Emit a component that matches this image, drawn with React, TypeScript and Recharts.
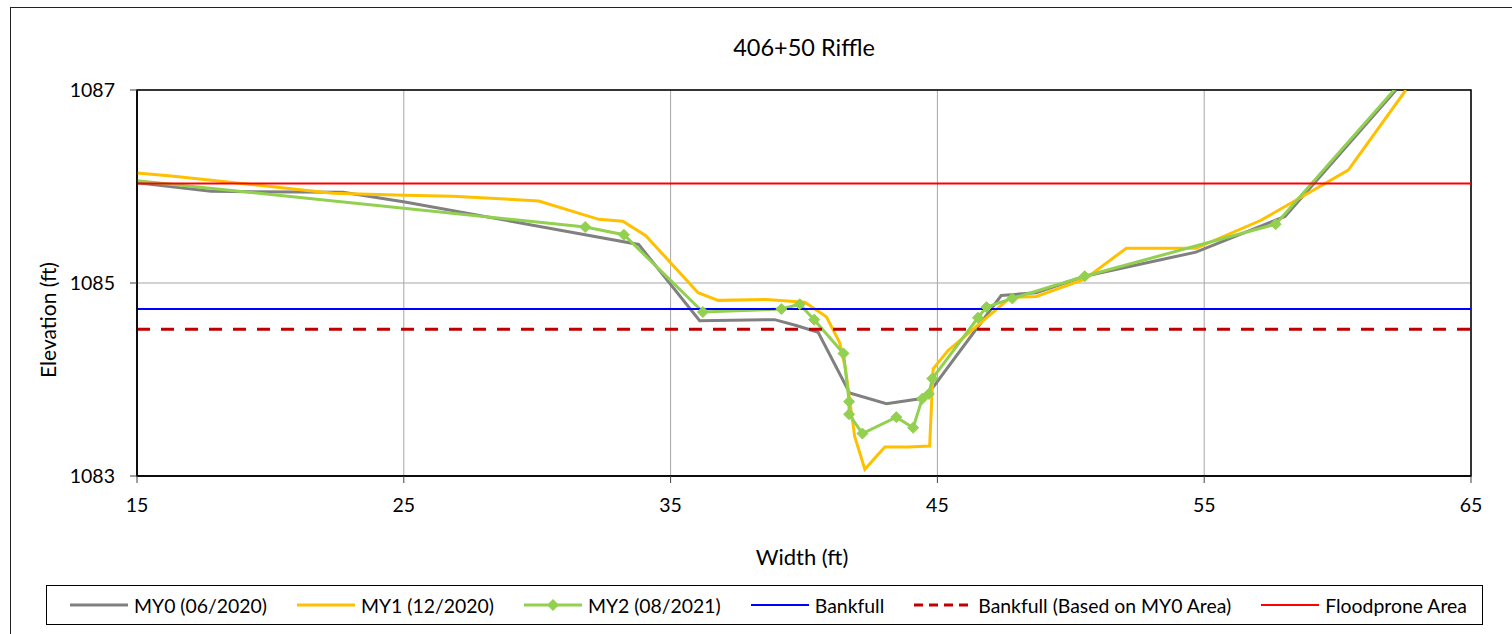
import { CartesianGrid, Line, LineChart, ReferenceArea, ReferenceLine, XAxis, YAxis } from "recharts";

const FONT = "Lato, 'Open Sans', sans-serif";

// surveyed cross-section, width (ft) / elevation (ft)
const my0Width = [15, 17.77, 22.72, 25.04, 33.8, 36.09, 38.9, 39.71, 40.53, 41.71, 43.09, 44.34, 44.84, 47.39, 48.7, 50.52, 54.69, 58.03, 62.19];
const my0Elev = [1086.04, 1085.95, 1085.94, 1085.84, 1085.4, 1084.61, 1084.62, 1084.56, 1084.49, 1083.86, 1083.75, 1083.8, 1083.92, 1084.87, 1084.9, 1085.07, 1085.32, 1085.69, 1087];

const my1Width = [15, 16.29, 22.34, 25.04, 26.84, 30.06, 32.31, 33.21, 34.07, 36.03, 36.78, 38.59, 40.03, 40.84, 41.34, 41.55, 41.9, 42.28, 43.03, 43.9, 44.71, 44.84, 45.4, 47.74, 48.71, 50.52, 52.08, 54.69, 57.13, 60.4, 62.56];
const my1Elev = [1086.14, 1086.11, 1085.93, 1085.91, 1085.9, 1085.85, 1085.66, 1085.64, 1085.49, 1084.9, 1084.82, 1084.83, 1084.8, 1084.65, 1084.38, 1084.12, 1083.41, 1083.07, 1083.3, 1083.3, 1083.31, 1084.11, 1084.3, 1084.85, 1084.86, 1085.04, 1085.36, 1085.36, 1085.65, 1086.17, 1087];

const my2Width = [15, 31.8, 33.25, 36.21, 39.15, 39.84, 40.38, 41.48, 41.69, 41.69, 42.19, 43.46, 44.09, 44.43, 44.68, 44.81, 46.52, 46.84, 47.81, 50.52, 57.68, 62.12];
const my2Elev = [1086.06, 1085.58, 1085.5, 1084.7, 1084.73, 1084.78, 1084.62, 1084.27, 1083.77, 1083.64, 1083.44, 1083.61, 1083.5, 1083.8, 1083.85, 1084.01, 1084.64, 1084.75, 1084.84, 1085.07, 1085.61, 1087];

const BANKFULL = 1084.73;
const BANKFULL_MY0 = 1084.52;
const FLOODPRONE = 1086.03;

const xTicks = [15, 25, 35, 45, 55, 65];
const yTicks = [1083, 1085, 1087];

const toPoints = (xs: number[], ys: number[]) => xs.map((x, i) => ({ x, y: ys[i] }));
const my0 = toPoints(my0Width, my0Elev);
const my1 = toPoints(my1Width, my1Elev);
const my2 = toPoints(my2Width, my2Elev);

const GRAY = "#808080";
const GOLD = "#FFC000";
const GREEN = "#92D050";

function Diamond(props: any) {
  const { cx, cy, index, payload } = props;
  if (payload.x <= 15 || payload.y >= 1087) return <g key={`d${index}`} />;
  const r = 5.5;
  return (
    <polygon
      key={`d${index}`}
      points={`${cx},${cy - r} ${cx + r},${cy} ${cx},${cy + r} ${cx - r},${cy}`}
      fill={GREEN}
      stroke={GREEN}
    />
  );
}

const legendItems = [
  { name: "MY0 (06/2020)", color: GRAY, width: 3 },
  { name: "MY1 (12/2020)", color: GOLD, width: 3 },
  { name: "MY2 (08/2021)", color: GREEN, width: 3, marker: true },
  { name: "Bankfull", color: "#0000FF", width: 2 },
  { name: "Bankfull (Based on MY0 Area)", color: "#C00000", width: 3, dash: "9 6" },
  { name: "Floodprone Area", color: "#FF0000", width: 2 },
];

export default function App() {
  return (
    <div style={{ position: "absolute", left: 0, top: 0, width: 1512, height: 634, overflow: "hidden", background: "#fff", fontFamily: FONT }}>
      <div style={{ position: "absolute", left: 10, top: 7, width: 1530, height: 660, border: "1.5px solid #222", boxSizing: "border-box" }} />
      <div style={{ position: "absolute", left: 137, width: 1334, top: 33, textAlign: "center", fontSize: 23.5, color: "#000" }}>
        406+50 Riffle
      </div>
      <div style={{ position: "absolute", left: 0, top: 0 }}>
        <LineChart width={1512} height={634} margin={{ top: 90, right: 41, bottom: 128, left: 77 }}>
          <CartesianGrid stroke="#A6A6A6" strokeWidth={1} />
          <XAxis
            dataKey="x"
            type="number"
            domain={[15, 65]}
            ticks={xTicks}
            allowDataOverflow
            height={30}
            axisLine={{ stroke: "#000", strokeWidth: 1.5 }}
            tickLine={{ stroke: "#404040" }}
            tickSize={7}
            tickMargin={15}
            tick={{ fill: "#000", fontSize: 19.5, fontFamily: FONT }}
            label={{
              content: () => (
                <text x={802} y={556} textAnchor="middle" dominantBaseline="central" fontSize={22} fontFamily={FONT} fill="#000">
                  Width (ft)
                </text>
              ),
            }}
          />
          <YAxis
            type="number"
            domain={[1083, 1087]}
            ticks={yTicks}
            allowDataOverflow
            width={60}
            axisLine={{ stroke: "#000", strokeWidth: 1.5 }}
            tickLine={{ stroke: "#404040" }}
            tickSize={7}
            tickMargin={15}
            tick={{ fill: "#000", fontSize: 19.5, fontFamily: FONT }}
            label={{
              content: () => (
                <text x={47} y={320} transform="rotate(-90 47 320)" textAnchor="middle" dominantBaseline="central" fontSize={21} fontFamily={FONT} fill="#000">
                  Elevation (ft)
                </text>
              ),
            }}
          />
          <ReferenceArea x1={15} x2={65} y1={1083} y2={1087} fill="none" stroke="#000" strokeWidth={1.5} ifOverflow="visible" />
          <Line data={my0} dataKey="y" stroke={GRAY} strokeWidth={3} dot={false} isAnimationActive={false} />
          <Line data={my1} dataKey="y" stroke={GOLD} strokeWidth={3} dot={false} isAnimationActive={false} />
          <Line data={my2} dataKey="y" stroke={GREEN} strokeWidth={3} dot={Diamond} activeDot={false} isAnimationActive={false} />
          <ReferenceLine y={BANKFULL} stroke="#0000FF" strokeWidth={2} />
          <ReferenceLine y={BANKFULL_MY0} stroke="#C00000" strokeWidth={3} strokeDasharray="13 11" />
          <ReferenceLine y={FLOODPRONE} stroke="#FF0000" strokeWidth={2} />
        </LineChart>
      </div>
      <div
        style={{
          position: "absolute",
          left: 46,
          top: 585,
          width: 1437,
          height: 40,
          border: "1.5px solid #000",
          boxSizing: "border-box",
          display: "flex",
          alignItems: "center",
          justifyContent: "center",
          gap: 30,
          paddingLeft: 8,
          fontSize: 19.4,
          color: "#000",
        }}
      >
        {legendItems.map((it) => (
          <div key={it.name} style={{ display: "flex", alignItems: "center", gap: 6 }}>
            <svg width={58} height={14}>
              <line x1={0} x2={58} y1={7} y2={7} stroke={it.color} strokeWidth={it.width} strokeDasharray={it.dash} />
              {it.marker && <polygon points="29,1 35,7 29,13 23,7" fill={it.color} />}
            </svg>
            <span>{it.name}</span>
          </div>
        ))}
      </div>
    </div>
  );
}
